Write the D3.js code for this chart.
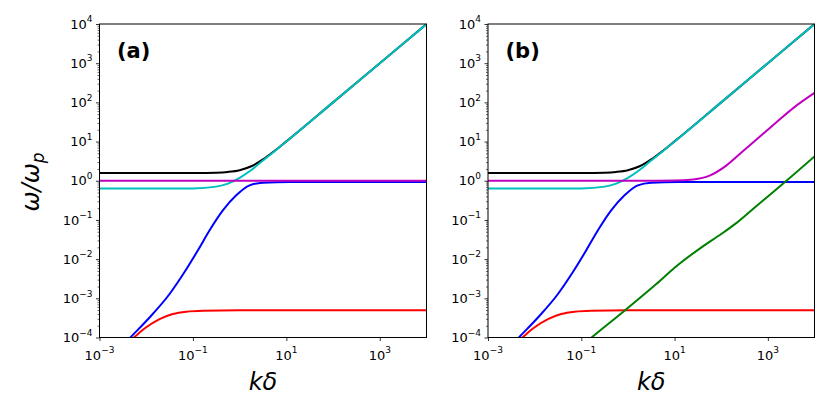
<!DOCTYPE html>
<html>
<head>
<meta charset="utf-8">
<script src="https://cdn.jsdelivr.net/npm/d3@7"></script>
<style>
  body { margin: 0; background: #fff; }
  text { font-family: "DejaVu Sans", sans-serif; fill: #000; }
</style>
</head>
<body>
<svg id="chart" width="830" height="415"></svg>
<script>
// values (k = kδ, w = ω/ω_p)
var kBlack = [0.001, 0.01, 0.1, 0.316, 0.562, 1, 1.78, 3.16, 5.62, 10, 100, 1000, 10000];
var wBlack = [1.57, 1.57, 1.58, 1.61, 1.68, 1.86, 2.34, 3.51, 5.82, 10.1, 100, 1000, 10000];

var kCyan = [0.001, 0.01, 0.1, 0.316, 0.562, 1, 1.78, 3.16, 5.62, 10, 100, 1000, 10000];
var wCyan = [0.631, 0.631, 0.638, 0.708, 0.847, 1.19, 1.88, 3.27, 5.69, 10.0, 100, 1000, 10000];

var kBlue = [0.00251, 0.00439, 0.01178, 0.0316, 0.0661, 0.127, 0.226, 0.437, 0.845, 1.63, 3.14, 11.7, 10000];
var wBlue = [4.68e-5, 9.5e-5, 3.24e-4, 1.29e-3, 4.68e-3, 0.0166, 0.0537, 0.175, 0.424, 0.762, 0.891, 0.927, 0.927];

var kRed = [0.00316, 0.00516, 0.01, 0.0193, 0.0372, 0.0718, 0.162, 1, 10000];
var wRed = [5.9e-5, 9.5e-5, 1.82e-4, 2.95e-4, 3.98e-4, 4.57e-4, 4.84e-4, 4.95e-4, 4.95e-4];

var kMagentaA = [0.001, 1, 10000];
var wMagentaA = [1, 1, 1];

var kMagentaB = [0.001, 1, 10, 25.1, 56.2, 126, 295, 676, 1549, 3548, 10000];
var wMagentaB = [1, 1, 1.01, 1.08, 1.35, 2.40, 5.75, 13.5, 31.6, 72.4, 174];

var kGreen = [0.1, 0.166, 0.857, 4.11, 10, 39.8, 100, 200, 501, 1000, 2328, 10000];
var wGreen = [6.03e-5, 1.0e-4, 4.9e-4, 2.34e-3, 6.03e-3, 0.0209, 0.0437, 0.0794, 0.1995, 0.398, 0.927, 4.17];

var xTickExp = [-3, -1, 1, 3];
var yTickExp = [-4, -3, -2, -1, 0, 1, 2, 3, 4];
var panelNames = ["(a)", "(b)"];

function zip(ks, ws) { return ks.map(function(k, i) { return [k, ws[i]]; }); }

var panelA = [
    {c: "#000000", d: zip(kBlack, wBlack)},
    {c: "#00bfbf", d: zip(kCyan, wCyan)},
    {c: "#0000ff", d: zip(kBlue, wBlue)},
    {c: "#bf00bf", d: zip(kMagentaA, wMagentaA)},
    {c: "#ff0000", d: zip(kRed, wRed)}
];
var panelB = [
    {c: "#000000", d: zip(kBlack, wBlack)},
    {c: "#00bfbf", d: zip(kCyan, wCyan)},
    {c: "#0000ff", d: zip(kBlue, wBlue)},
    {c: "#bf00bf", d: zip(kMagentaB, wMagentaB)},
    {c: "#ff0000", d: zip(kRed, wRed)},
    {c: "#008000", d: zip(kGreen, wGreen)}
];

var svg = d3.select("#chart");
var top0 = 24, bot0 = 337.5;
var boxes = [[99.5, 426.5], [488, 814.5]];
var sup = "\u2212";

function expText(e) { return e < 0 ? sup + (-e) : String(e); }

boxes.forEach(function(b, p) {
    var x = d3.scaleLog().domain([1e-3, 1e4]).range(b);
    var y = d3.scaleLog().domain([1e-4, 1e4]).range([bot0, top0]);
    var g = svg.append("g");

    g.append("clipPath").attr("id", "clip" + p)
        .append("rect")
        .attr("x", b[0]).attr("y", top0)
        .attr("width", b[1] - b[0]).attr("height", bot0 - top0);

    var line = d3.line()
        .x(function(d) { return x(d[0]); })
        .y(function(d) { return y(d[1]); })
        .curve(d3.curveMonotoneX);

    var series = p == 0 ? panelA : panelB;
    g.append("g").attr("clip-path", "url(#clip" + p + ")")
        .selectAll("path").data(series).enter()
        .append("path")
        .attr("d", function(s) { return line(s.d); })
        .attr("fill", "none")
        .attr("stroke", function(s) { return s.c; })
        .attr("stroke-width", 2);

    // y ticks: majors + minors 2..9
    var minors = [];
    yTickExp.forEach(function(e) {
        if (e == 4) return;
        for (var m = 2; m < 10; m++) minors.push(m * Math.pow(10, e));
    });
    g.append("g").attr("transform", "translate(" + b[0] + ",0)")
        .call(d3.axisLeft(y).tickValues(minors).tickSize(2).tickFormat(""))
        .call(function(a) { a.select(".domain").remove(); a.selectAll("line").attr("stroke-width", 0.6); });
    g.append("g").attr("transform", "translate(" + b[0] + ",0)")
        .call(d3.axisLeft(y).tickValues(yTickExp.map(function(e) { return Math.pow(10, e); })).tickSize(3.5).tickFormat(""))
        .call(function(a) { a.select(".domain").remove(); a.selectAll("line").attr("stroke-width", 0.8); });
    g.append("g").attr("transform", "translate(0," + bot0 + ")")
        .call(d3.axisBottom(x).tickValues(xTickExp.map(function(e) { return Math.pow(10, e); })).tickSize(3.5).tickFormat(""))
        .call(function(a) { a.select(".domain").remove(); a.selectAll("line").attr("stroke-width", 0.8); });

    // tick labels as 10^e
    yTickExp.forEach(function(e) {
        var t = g.append("text")
            .attr("x", b[0] - 7).attr("y", y(Math.pow(10, e)) + 4.7)
            .attr("text-anchor", "end").style("font-size", "13px");
        t.append("tspan").text("10");
        t.append("tspan").attr("dy", -6.5).style("font-size", "9px").text(expText(e));
    });
    xTickExp.forEach(function(e) {
        var t = g.append("text")
            .attr("x", x(Math.pow(10, e))).attr("y", 359.5)
            .attr("text-anchor", "middle").style("font-size", "13px");
        t.append("tspan").text("10");
        t.append("tspan").attr("dy", -6.5).style("font-size", "9px").text(expText(e));
    });

    g.append("rect")
        .attr("x", b[0]).attr("y", top0)
        .attr("width", b[1] - b[0]).attr("height", bot0 - top0)
        .attr("fill", "none").attr("stroke", "#000").attr("stroke-width", 1);

    g.append("text")
        .attr("x", b[0] + 17.5).attr("y", 58)
        .style("font-size", "21px").style("font-weight", "bold")
        .text(panelNames[p]);

    g.append("text")
        .attr("x", (b[0] + b[1]) / 2).attr("y", 390)
        .attr("text-anchor", "middle")
        .style("font-size", "24px").style("font-style", "italic")
        .text("k\u03b4");
});

// y label
var yl = svg.append("text")
    .attr("transform", "translate(39,182) rotate(-90)")
    .attr("text-anchor", "middle")
    .style("font-size", "24px").style("font-style", "italic");
yl.append("tspan").text("\u03c9/\u03c9");
yl.append("tspan").attr("dy", 5).style("font-size", "17px").text("p");
</script>
</body>
</html>
